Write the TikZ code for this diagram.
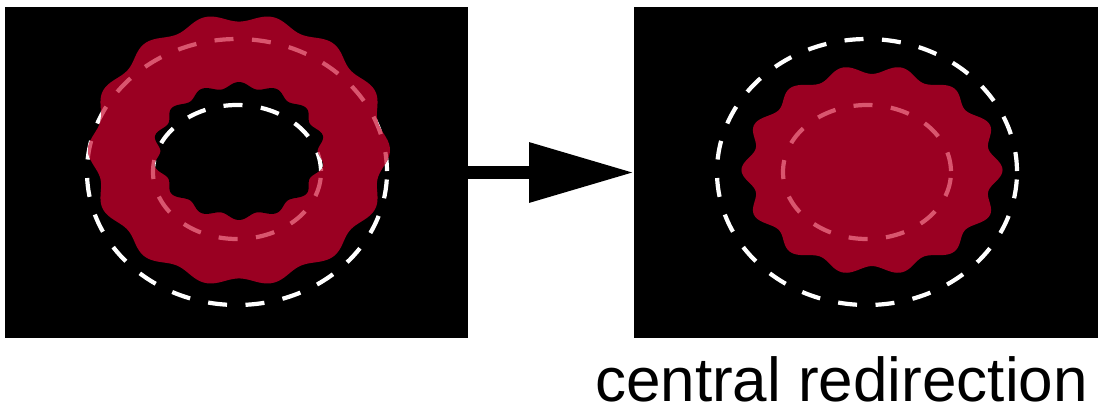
\documentclass[tikz,border=0pt]{standalone}
\usepackage{fontspec}
\setmainfont{Liberation Sans}
\usetikzlibrary{arrows.meta}
\definecolor{bloodred}{HTML}{9A0022}
\definecolor{pinkdash}{HTML}{D9556E}
\tikzset{
  panel/.style={fill=black, draw=none, inner sep=0pt, outer sep=0pt, minimum height=331pt},
  wdash/.style={draw=white, line width=4.2pt, dash pattern=on 19pt off 18.5pt, dash phase=36.5pt},
  pdash/.style={wdash, draw=pinkdash},
  redfill/.style={fill=bloodred, draw=none},
  bigarrow/.style={line width=13pt, -{Triangle[length=105pt, width=57pt]}},
  caption/.style={anchor=base, inner sep=0pt, font=\fontsize{62pt}{70pt}\selectfont},
}
\begin{document}
\begin{tikzpicture}[x=1pt,y=-1pt]
\useasboundingbox (0,0) rectangle (1120,408);
\node[panel, minimum width=463pt] (before) at (236.5,172.5) {};
\node[panel, minimum width=464pt] (after) at (866,172.5) {};
\draw[bigarrow] (before.east) -- (after.west);

% ---------- left panel: ring ----------
\draw[wdash] (237,172) ellipse [x radius=150pt, y radius=133pt];
\draw[wdash] (237,172) ellipse [x radius=84pt, y radius=67pt];
\fill[redfill] plot[domain=0:360, samples=361, smooth, variable=\t]
  ({239+146.6*(1+0.03*cos(14*\t))*cos(\t)}, {150+132.4*(1+0.03*cos(14*\t))*sin(\t)}) -- cycle;
\begin{scope}
  \clip plot[domain=0:360, samples=361, smooth, variable=\t]
  ({239+146.6*(1+0.03*cos(14*\t))*cos(\t)}, {150+132.4*(1+0.03*cos(14*\t))*sin(\t)}) -- cycle;
  \draw[pdash] (237,172) ellipse [x radius=150pt, y radius=133pt];
  \draw[pdash] (237,172) ellipse [x radius=84pt, y radius=67pt];
\end{scope}
\fill[black] plot[domain=0:360, samples=361, smooth, variable=\t]
  ({239+82.3*(1-0.045*cos(14*\t))*cos(\t)}, {151+66*(1-0.045*cos(14*\t))*sin(\t)}) -- cycle;
\begin{scope}
  \clip plot[domain=0:360, samples=361, smooth, variable=\t]
  ({239+82.3*(1-0.045*cos(14*\t))*cos(\t)}, {151+66*(1-0.045*cos(14*\t))*sin(\t)}) -- cycle;
  \draw[wdash] (237,172) ellipse [x radius=150pt, y radius=133pt];
  \draw[wdash] (237,172) ellipse [x radius=84pt, y radius=67pt];
\end{scope}

% ---------- right panel: blob ----------
\draw[wdash] (867,172) ellipse [x radius=150pt, y radius=133pt];
\draw[wdash] (867,172) ellipse [x radius=84pt, y radius=67pt];
\fill[redfill] plot[domain=0:360, samples=361, smooth, variable=\t]
  ({872+124.9*(1+0.045*cos(14*\t))*cos(\t)}, {170+100.6*(1+0.045*cos(14*\t))*sin(\t)}) -- cycle;
\begin{scope}
  \clip plot[domain=0:360, samples=361, smooth, variable=\t]
  ({872+124.9*(1+0.045*cos(14*\t))*cos(\t)}, {170+100.6*(1+0.045*cos(14*\t))*sin(\t)}) -- cycle;
  \draw[pdash] (867,172) ellipse [x radius=150pt, y radius=133pt];
  \draw[pdash] (867,172) ellipse [x radius=84pt, y radius=67pt];
\end{scope}

\node[caption] (label) at (841.5,401) {central redirection};
\end{tikzpicture}
\end{document}
